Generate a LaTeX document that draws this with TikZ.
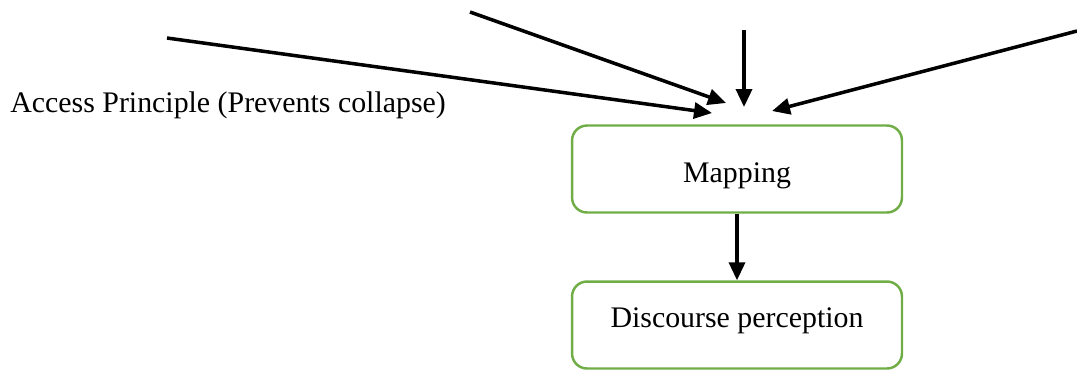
\documentclass[tikz,border=0pt]{standalone}
\usepackage{fontspec}
\setmainfont{Liberation Serif}
\usetikzlibrary{arrows.meta}
\definecolor{lgreen}{RGB}{112,173,71}
\tikzset{
      stage/.style={draw=lgreen, line width=1.4pt, rounded corners=0.3cm,
            minimum width=6.6cm, minimum height=1.74cm, font=\fontsize{17}{20}\selectfont},
      feed/.style={draw=black, line width=2pt, -{Triangle[length=0.36cm, width=0.32cm]}},
}
\begin{document}
\begin{tikzpicture}[x=0.02cm, y=-0.02cm]

        \useasboundingbox (0,0) rectangle (1077,370) ;

        \node[stage, text height=0.6cm, text depth=0.08cm] (map) at (737,169) {Mapping} ;
        \node[stage, text height=0.44cm, text depth=0.36cm] (disc) at (737,325) {Discourse perception} ;
        \node[anchor=base west, inner sep=0, font=\fontsize{17}{20}\selectfont] (access) at (10,112) {Access Principle (Prevents collapse)} ;

        \coordinate (in1) at (167,38) ;   \coordinate (to1) at (712,113) ;
        \coordinate (in2) at (470,12) ;   \coordinate (to2) at (726,103) ;
        \coordinate (in3) at (744,30) ;   \coordinate (to3) at (744,107) ;
        \coordinate (in4) at (1077,31) ;  \coordinate (to4) at (772,111) ;

        \draw[feed] (in1) -- (to1) ;
        \draw[feed] (in2) -- (to2) ;
        \draw[feed] (in3) -- (to3) ;
        \draw[feed] (in4) -- (to4) ;

        \draw[feed] (map.south) -- (disc.north) ;

    \end{tikzpicture}
\end{document}
